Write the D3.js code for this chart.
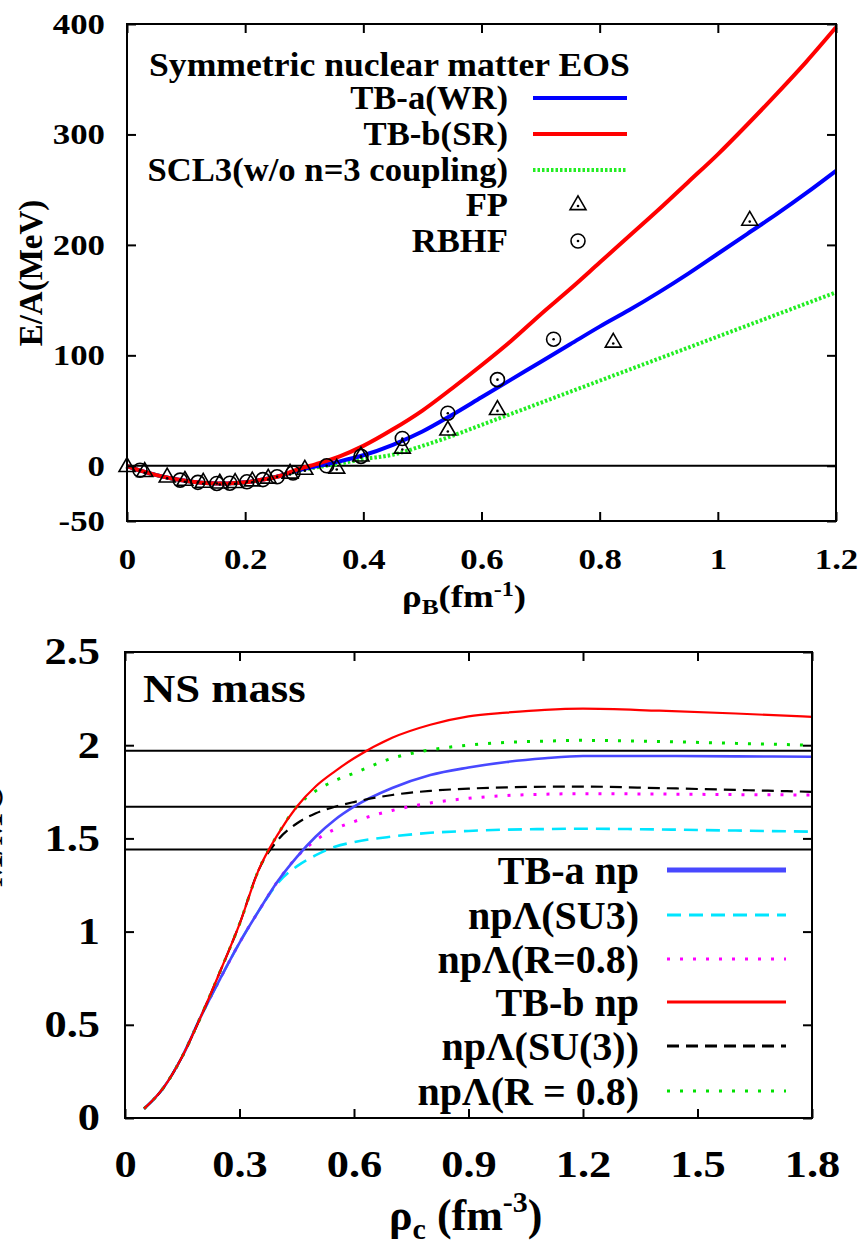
<!DOCTYPE html>
<html><head><meta charset="utf-8">
<script src="https://cdn.jsdelivr.net/npm/d3@7"></script>
<style>
body{margin:0;background:#fff}
text{font-family:"Liberation Serif","Times New Roman",Times,serif;font-weight:bold;fill:#000}
</style>
</head><body>
<svg id="c" width="865" height="1244"></svg>
<script>
// ---------- Top panel: symmetric nuclear matter EOS ----------
const eosRho  = [0,0.02,0.05,0.08,0.11,0.14,0.17,0.2,0.23,0.26,0.29,0.32,0.36,0.4,0.45,0.5,0.55,0.6,0.65,0.7,0.75,0.8,0.85,0.9,0.95,1.0,1.05,1.1,1.15,1.2];
const eosTBa  = [0,-4,-8.5,-12,-14.5,-15.8,-16,-15,-12.5,-9,-4,-0.5,4,9.5,19,31,46,62,78,94,110,126,141,157,174,192,210,228,247,267];
const eosTBb  = [0,-4,-8.5,-12,-14.5,-15.8,-16,-15,-12.5,-9,-3,1.5,8.5,18,33,50,70,91,113,137,160,184,208,232,257,282,309,337,366,397];
const eosSCL3 = [0,-4,-8.5,-12,-14.5,-15.8,-16,-15,-12.5,-9,-4.5,-1.5,2,6,10,18,27,37,47,57,67,77,87,97,107,117,127,137,147,157];
const fpRho   = [0.0,0.03,0.068,0.098,0.129,0.157,0.183,0.212,0.239,0.276,0.301,0.355,0.396,0.466,0.543,0.627,0.823,1.054];
const fpE     = [-1,-5.5,-10.5,-13.5,-15.3,-16,-15.5,-14,-11.5,-7,-3.5,-2.5,8.5,15.6,32,50.6,111.6,222];
const rbhfRho = [0.022,0.09,0.12,0.152,0.174,0.203,0.23,0.254,0.281,0.338,0.396,0.466,0.543,0.627,0.722];
const rbhfE   = [-4,-13,-15,-16,-15.8,-14.5,-12.5,-10,-6.5,0,8.5,24.7,47.6,78,114.6];
const eosXTicks = [0,0.2,0.4,0.6,0.8,1,1.2];
const eosYTicks = [-50,0,100,200,300,400];
const eosLegend = ["TB-a(WR)","TB-b(SR)","SCL3(w/o n=3 coupling)","FP","RBHF"];

// ---------- Bottom panel: NS mass ----------
const nsRho   = [0.05,0.1,0.15,0.2,0.25,0.3,0.35,0.4,0.45,0.5,0.55,0.6,0.7,0.8,0.9,1.0,1.1,1.2,1.4,1.6,1.8];
const tbaNp   = [0.05,0.16,0.33,0.55,0.75,0.94,1.11,1.27,1.40,1.51,1.60,1.67,1.77,1.84,1.88,1.91,1.93,1.942,1.942,1.94,1.938];
const tbaSU3  = [0.05,0.16,0.33,0.55,0.75,0.94,1.11,1.26,1.35,1.41,1.455,1.48,1.51,1.53,1.54,1.547,1.55,1.552,1.548,1.542,1.536];
const tbaR08  = [0.05,0.16,0.33,0.55,0.75,0.94,1.11,1.27,1.40,1.49,1.55,1.59,1.65,1.69,1.715,1.73,1.737,1.74,1.738,1.735,1.733];
const tbbNp   = [0.05,0.16,0.33,0.55,0.79,1.04,1.33,1.52,1.67,1.78,1.86,1.93,2.04,2.11,2.155,2.175,2.19,2.196,2.185,2.17,2.152];
const tbbSU3  = [0.05,0.16,0.33,0.55,0.79,1.04,1.33,1.49,1.58,1.635,1.67,1.695,1.733,1.755,1.767,1.774,1.777,1.778,1.77,1.76,1.75];
const tbbR08  = [0.05,0.16,0.33,0.55,0.79,1.04,1.33,1.52,1.67,1.755,1.81,1.85,1.93,1.975,2.0,2.015,2.022,2.026,2.02,2.01,2.0];
const obsMass = [1.97,1.67,1.44];
const nsXTicks = [0,0.3,0.6,0.9,1.2,1.5,1.8];
const nsYTicks = [0,0.5,1,1.5,2,2.5];
const nsLegend = ["TB-a np","npΛ(SU3)","npΛ(R=0.8)","TB-b np","npΛ(SU(3))","npΛ(R = 0.8)"];

const svg = d3.select("#c");

function stretch(sel, f){
  sel.each(function(){
    const w = this.getComputedTextLength();
    d3.select(this).attr("textLength", w*f).attr("lengthAdjust","spacingAndGlyphs");
  });
}
function fmt(v){ return String(v); }

// ================= TOP =================
const xT = d3.scaleLinear().domain([0,1.2]).range([127,836]);
const yT = d3.scaleLinear().domain([-50,400]).range([521,24]);
const gT = svg.append("g");

gT.append("line").attr("x1",xT(0)).attr("x2",xT(1.2)).attr("y1",yT(0)).attr("y2",yT(0))
  .attr("stroke","#000").attr("stroke-width",2);

const lineT = d3.line().x(d=>xT(d[0])).y(d=>yT(d[1])).curve(d3.curveMonotoneX);
const topSeries = [
  {v:eosTBa,  color:"#0000ff", w:4, dash:null},
  {v:eosTBb,  color:"#ff0000", w:4, dash:null},
  {v:eosSCL3, color:"#22ee22", w:4, dash:"2.5,2"}
];
[2,0,1].forEach(k=>{
  const s = topSeries[k];
  gT.append("path").datum(eosRho.map((r,i)=>[r,s.v[i]]))
    .attr("d",lineT).attr("fill","none").attr("stroke",s.color)
    .attr("stroke-width",s.w).attr("stroke-dasharray",s.dash);
});

const tri = d3.symbol().type(d3.symbolTriangle).size(110);
function drawTri(g,x,y){
  g.append("path").attr("d",tri()).attr("transform",`translate(${x},${y})`)
    .attr("fill","none").attr("stroke","#000").attr("stroke-width",1.6);
  g.append("circle").attr("cx",x).attr("cy",y+1).attr("r",1.3).attr("fill","#000");
}
function drawCirc(g,x,y){
  g.append("circle").attr("cx",x).attr("cy",y).attr("r",7).attr("fill","none")
    .attr("stroke","#000").attr("stroke-width",1.6);
  g.append("circle").attr("cx",x).attr("cy",y).attr("r",1.3).attr("fill","#000");
}
fpRho.forEach((r,i)=>drawTri(gT,xT(r),yT(fpE[i])));
rbhfRho.forEach((r,i)=>drawCirc(gT,xT(r),yT(rbhfE[i])));

gT.append("rect").attr("x",xT(0)).attr("y",yT(400)).attr("width",xT(1.2)-xT(0)).attr("height",yT(-50)-yT(400))
  .attr("fill","none").attr("stroke","#000").attr("stroke-width",2);

function styleAxis(g, fs){
  g.select(".domain").remove();
  g.selectAll(".tick line").attr("stroke","#000").attr("stroke-width",2);
  g.selectAll(".tick text").attr("font-size",fs).attr("fill","#000")
    .attr("font-family","Liberation Serif, Times New Roman, Times, serif").attr("font-weight","bold");
}
const axBT = gT.append("g").attr("transform",`translate(0,${yT(-50)})`)
  .call(d3.axisBottom(xT).tickValues(eosXTicks).tickFormat(fmt).tickSizeInner(-9).tickSizeOuter(0).tickPadding(27));
styleAxis(axBT,29);
const axTT = gT.append("g").attr("transform",`translate(0,${yT(400)})`)
  .call(d3.axisTop(xT).tickValues(eosXTicks).tickFormat("").tickSizeInner(-9).tickSizeOuter(0));
styleAxis(axTT,29);
const axLT = gT.append("g").attr("transform",`translate(${xT(0)},0)`)
  .call(d3.axisLeft(yT).tickValues(eosYTicks).tickFormat(fmt).tickSizeInner(-9).tickSizeOuter(0).tickPadding(22));
styleAxis(axLT,29);
const axRT = gT.append("g").attr("transform",`translate(${xT(1.2)},0)`)
  .call(d3.axisRight(yT).tickValues(eosYTicks).tickFormat("").tickSizeInner(-9).tickSizeOuter(0));
styleAxis(axRT,29);
stretch(axBT.selectAll(".tick text"),1.2);
stretch(axLT.selectAll(".tick text"),1.2);

const xlabT = gT.append("text").attr("x",402).attr("y",607).attr("font-size",32);
xlabT.append("tspan").text("ρ");
xlabT.append("tspan").text("B").attr("font-size",22).attr("dy",7);
xlabT.append("tspan").text("(fm").attr("dy",-7);
xlabT.append("tspan").text("-1").attr("font-size",21).attr("dy",-11);
xlabT.append("tspan").text(")").attr("dy",11);
xlabT.call(stretch,1.15);

gT.append("text").attr("transform","translate(42,273) rotate(-90)").attr("text-anchor","middle")
  .attr("font-size",33).text("E/A(MeV)");

gT.append("text").attr("x",149).attr("y",65).attr("dy","0.34em").attr("font-size",33)
  .text("Symmetric nuclear matter EOS").call(stretch,1.08);
const legT = [98,134,170,205,241];
eosLegend.forEach((t,i)=>{
  gT.append("text").attr("x",508).attr("y",legT[i]).attr("dy","0.34em").attr("text-anchor","end")
    .attr("font-size",33).text(t).call(stretch,1.05);
});
topSeries.forEach((s,i)=>{
  gT.append("line").attr("x1",533).attr("x2",627).attr("y1",legT[i]).attr("y2",legT[i])
    .attr("stroke",s.color).attr("stroke-width",s.w).attr("stroke-dasharray",s.dash);
});
drawTri(gT,578,legT[3]);
drawCirc(gT,578,legT[4]);

// ================= BOTTOM =================
const xB = d3.scaleLinear().domain([0,1.8]).range([125,812]);
const yB = d3.scaleLinear().domain([0,2.5]).range([1118,652]);
const gB = svg.append("g");

obsMass.forEach(m=>{
  gB.append("line").attr("x1",xB(0)).attr("x2",xB(1.8)).attr("y1",yB(m)).attr("y2",yB(m))
    .attr("stroke","#000").attr("stroke-width",2);
});

const lineB = d3.line().x(d=>xB(d[0])).y(d=>yB(d[1])).curve(d3.curveMonotoneX);
const botSeries = [
  {v:tbaNp,  color:"#4848ff", w:2.6, lw:5,   dash:null},
  {v:tbaSU3, color:"#00e5ff", w:2.6, lw:3,   dash:"14,8"},
  {v:tbaR08, color:"#ff00ff", w:3,   lw:3,   dash:"3,10"},
  {v:tbbNp,  color:"#ff0000", w:2.2, lw:3,   dash:null},
  {v:tbbSU3, color:"#000000", w:2.2, lw:3,   dash:"12,7"},
  {v:tbbR08, color:"#00e000", w:3,   lw:3,   dash:"3,10"}
];
[1,2,0,4,5,3].forEach(k=>{
  const s = botSeries[k];
  gB.append("path").datum(nsRho.map((r,i)=>[r,s.v[i]]))
    .attr("d",lineB).attr("fill","none").attr("stroke",s.color)
    .attr("stroke-width",s.w).attr("stroke-dasharray",s.dash);
});

gB.append("rect").attr("x",xB(0)).attr("y",yB(2.5)).attr("width",xB(1.8)-xB(0)).attr("height",yB(0)-yB(2.5))
  .attr("fill","none").attr("stroke","#000").attr("stroke-width",2);

const axBB = gB.append("g").attr("transform",`translate(0,${yB(0)})`)
  .call(d3.axisBottom(xB).tickValues(nsXTicks).tickFormat(fmt).tickSizeInner(-9).tickSizeOuter(0).tickPadding(33));
styleAxis(axBB,37);
const axTB = gB.append("g").attr("transform",`translate(0,${yB(2.5)})`)
  .call(d3.axisTop(xB).tickValues(nsXTicks).tickFormat("").tickSizeInner(-9).tickSizeOuter(0));
styleAxis(axTB,37);
const axLB = gB.append("g").attr("transform",`translate(${xB(0)},0)`)
  .call(d3.axisLeft(yB).tickValues(nsYTicks).tickFormat(fmt).tickSizeInner(-9).tickSizeOuter(0).tickPadding(25));
styleAxis(axLB,37);
const axRB = gB.append("g").attr("transform",`translate(${xB(1.8)},0)`)
  .call(d3.axisRight(yB).tickValues(nsYTicks).tickFormat("").tickSizeInner(-9).tickSizeOuter(0));
styleAxis(axRB,37);
stretch(axBB.selectAll(".tick text"),1.2);
stretch(axLB.selectAll(".tick text"),1.2);

gB.append("text").attr("x",143).attr("y",702).attr("font-size",41).text("NS mass").call(stretch,1.09);

const xlabB = gB.append("text").attr("x",389).attr("y",1230).attr("font-size",44);
xlabB.append("tspan").text("ρ");
xlabB.append("tspan").text("c").attr("font-size",30).attr("dy",9);
xlabB.append("tspan").text(" (fm").attr("dy",-9);
xlabB.append("tspan").text("-3").attr("font-size",30).attr("dy",-18);
xlabB.append("tspan").text(")").attr("dy",18);

gB.append("text").attr("transform","translate(2,835) rotate(-90)").attr("text-anchor","middle")
  .attr("font-size",34).text("M/M☉");

const legB = [870,915,959,1002,1046,1091];
nsLegend.forEach((t,i)=>{
  gB.append("text").attr("x",639).attr("y",legB[i]).attr("dy","0.34em").attr("text-anchor","end")
    .attr("font-size",40).text(t);
  const s = botSeries[i];
  gB.append("line").attr("x1",667).attr("x2",786).attr("y1",legB[i]).attr("y2",legB[i])
    .attr("stroke",s.color).attr("stroke-width",s.lw).attr("stroke-dasharray",s.dash);
});
</script>
</body></html>
